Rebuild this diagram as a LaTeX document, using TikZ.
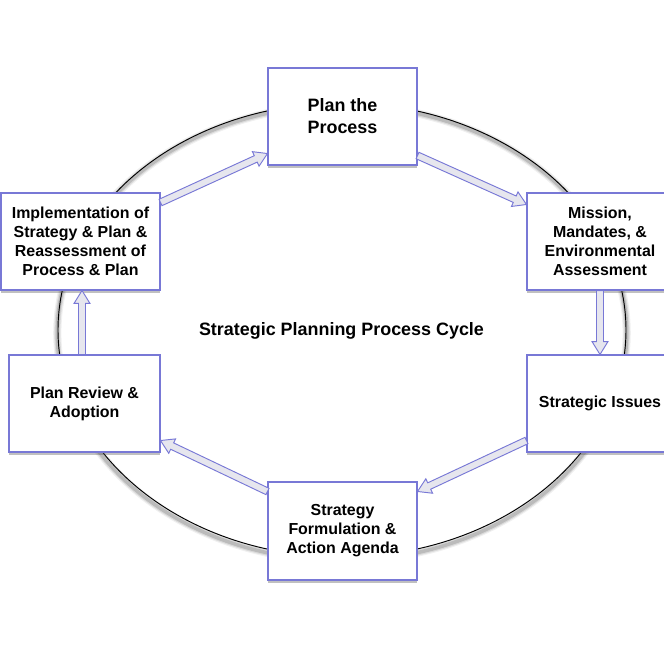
\documentclass[tikz,border=0pt]{standalone}
\usepackage{fontspec}
\setmainfont{Liberation Sans}
\usetikzlibrary{calc,shadows}
\definecolor{boxline}{RGB}{120,120,214}
\definecolor{arrfill}{RGB}{230,230,238}
\tikzset{
  stagebox/.style={draw=boxline, line width=0.9pt, fill=white, inner sep=0pt,
    align=center, font=\fontsize{13.6}{16.2}\selectfont\bfseries,
    minimum height=2.91cm,
    drop shadow={shadow xshift=0.4pt, shadow yshift=-2.2pt, opacity=0.35, fill=black!70}},
  bigtext/.style={font=\fontsize{15.3}{18.8}\selectfont\bfseries},
  fatarrowstyle/.style={draw=boxline, fill=arrfill, line width=0.8pt, line join=miter}
}
\newcommand\fatarrow[2]{%
  \coordinate (faS) at #1;
  \coordinate (faE) at #2;
  \coordinate (faM) at ($(faE)!11pt!(faS)$);
  \draw[fatarrowstyle] ($(faS)!3pt!90:(faE)$) -- ($(faM)!3pt!90:(faE)$)
    -- ($(faM)!6.8pt!90:(faE)$) -- (faE) -- ($(faM)!6.8pt!-90:(faE)$)
    -- ($(faM)!3pt!-90:(faE)$) -- ($(faS)!3pt!-90:(faE)$) -- cycle;}
\begin{document}
\begin{tikzpicture}[x=0.03cm,y=-0.03cm]
\useasboundingbox (0,0) rectangle (663,663);
\fill[white] (0,0) rectangle (663,663);
\coordinate (ec) at (342,330);
% ellipse shadow
\foreach \k/\o in {7/0.06,5/0.09,3/0.14}
  \draw[black,opacity=\o,line width=\k pt] ($(ec)+(0,3)$) ellipse [x radius=8.54cm, y radius=6.83cm];
\draw[black,line width=0.8pt] (ec) ellipse [x radius=8.52cm, y radius=6.81cm];
% boxes
\node[stagebox, bigtext, minimum width=4.47cm] (plan) at (342.5,116.5) {Plan the\\Process};
\node[stagebox, minimum width=4.38cm] (mission) at (600,241.5) {Mission,\\Mandates, \&\\Environmental\\Assessment};
\node[stagebox, minimum width=4.38cm] (issues) at (600,403.5) {Strategic Issues};
\node[stagebox, minimum width=4.47cm, minimum height=2.94cm] (strategy) at (342.5,531) {Strategy\\Formulation \&\\Action Agenda};
\node[stagebox, minimum width=4.53cm] (review) at (84.5,403.5) {Plan Review \&\\Adoption};
\node[stagebox, minimum width=4.77cm] (impl) at (80.5,241.5) {Implementation of\\Strategy \& Plan \&\\Reassessment of\\Process \& Plan};
% title
\node[bigtext] (title) at (341.5,331) {Strategic Planning Process Cycle};
% arrows
\fatarrow{($(impl.north east)+(0,10)$)}{($(plan.south west)+(0,-12)$)}
\fatarrow{($(plan.south east)+(0,-10)$)}{($(mission.north west)+(0,12)$)}
\fatarrow{(mission.south)}{(issues.north)}
\fatarrow{($(issues.south west)+(0,-12)$)}{($(strategy.north east)+(0,10)$)}
\fatarrow{($(strategy.north west)+(0,10)$)}{($(review.south east)+(0,-12)$)}
\fatarrow{($(review.north)+(-2.5,0)$)}{($(impl.south)+(1.5,0)$)}
\end{tikzpicture}
\end{document}
